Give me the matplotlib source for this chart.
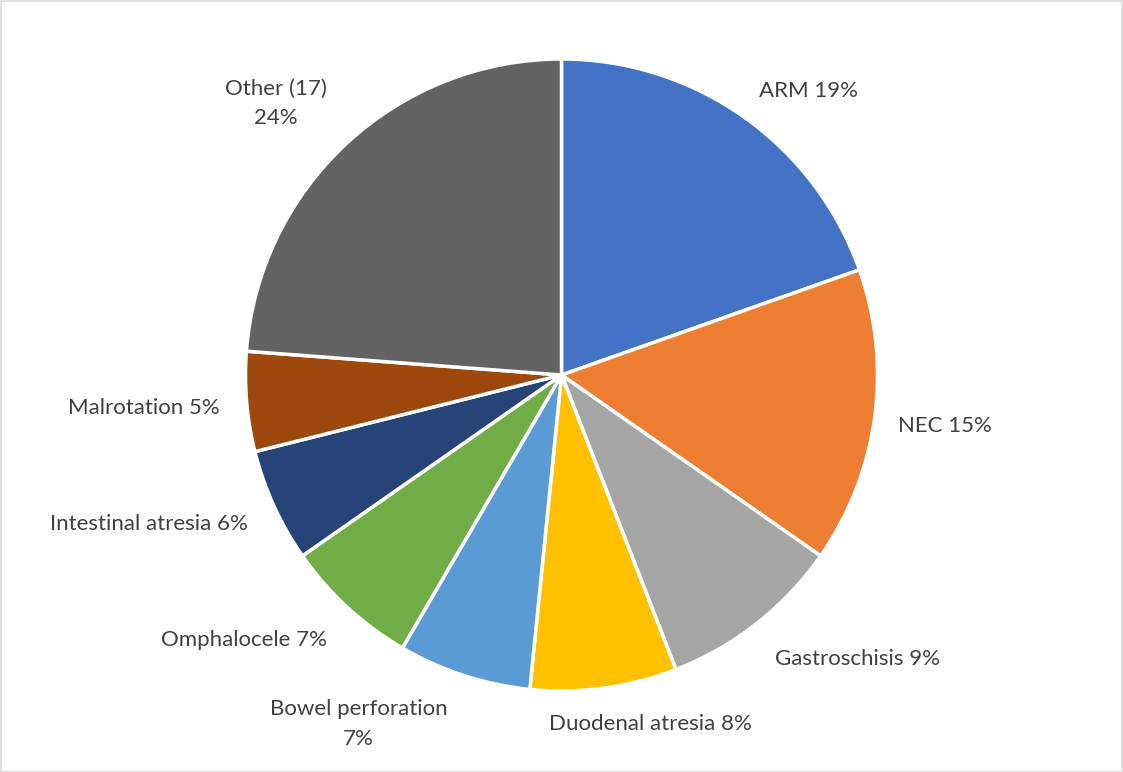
import matplotlib
matplotlib.use("Agg")
import matplotlib.pyplot as plt
from matplotlib.patches import Rectangle

categories = ["ARM", "NEC", "Gastroschisis", "Duodenal atresia", "Bowel perforation",
              "Omphalocele", "Intestinal atresia", "Malrotation", "Other (17)"]
shares = [19.6, 15.1, 9.4, 7.5, 6.8, 6.9, 5.8, 5.1, 23.8]
label_texts = ["ARM 19%", "NEC 15%", "Gastroschisis 9%", "Duodenal atresia 8%",
               "Bowel perforation\n7%", "Omphalocele 7%", "Intestinal atresia 6%",
               "Malrotation 5%", "Other (17)\n24%"]
colors = ["#4472C4", "#ED7D31", "#A5A5A5", "#FFC000", "#5B9BD5",
          "#70AD47", "#264478", "#9E480E", "#636363"]

# label positions (in pie-radius units relative to centre)
label_pos = [(0.782, 0.898), (1.212, -0.160), (0.937, -0.900), (0.282, -1.103),
             (-0.642, -1.105), (-1.006, -0.840), (-1.307, -0.473), (-1.323, -0.103),
             (-0.905, 0.860)]

plt.rcParams['font.family'] = ['Lato', 'DejaVu Sans']

W, H = 1123, 772
fig = plt.figure(figsize=(W / 100, H / 100), dpi=100)
cx, cy, r = 561.5, 375, 316
ax = fig.add_axes([(cx - r) / W, (H - cy - r) / H, 2 * r / W, 2 * r / H])
ax.pie(shares, colors=colors, startangle=90, counterclock=False, radius=1,
       wedgeprops=dict(edgecolor="white", linewidth=2.5))
ax.set_xlim(-1, 1)
ax.set_ylim(-1, 1)
ax.set_aspect('equal')
ax.axis('off')
for txt, (x, y) in zip(label_texts, label_pos):
    ax.text(x, y, txt, ha='center', va='center', fontsize=16, color='#404040',
            linespacing=1.6, clip_on=False)

fig.patches.append(Rectangle((0.5 / W, 0.5 / H), 1 - 1.5 / W, 1 - 1.5 / H,
                             transform=fig.transFigure, fill=False,
                             edgecolor='#D9D9D9', linewidth=1.2))
fig.savefig("out.png", dpi=100)
